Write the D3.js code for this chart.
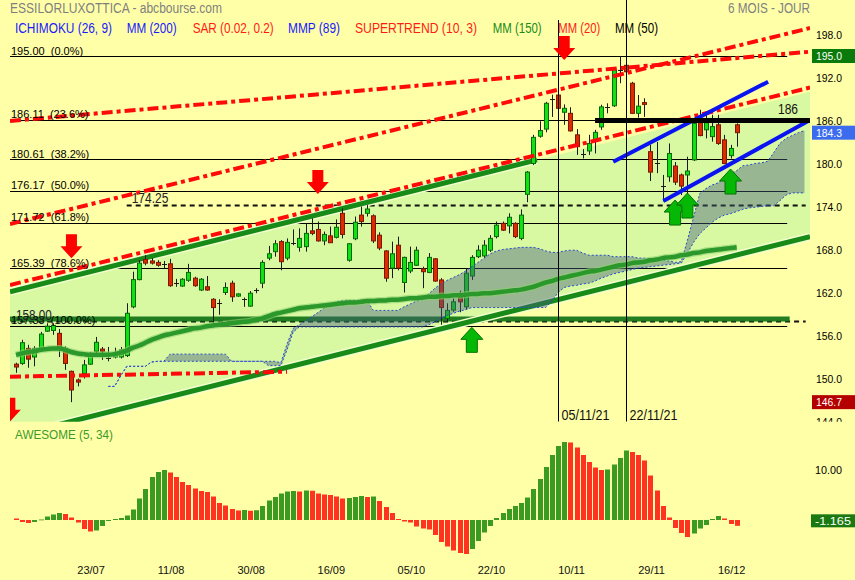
<!DOCTYPE html>
<html><head><meta charset="utf-8">
<script src="https://cdn.jsdelivr.net/npm/d3@7"></script>
<style>
body{margin:0;background:#ffffa8}
svg{display:block}
text{font-family:"Liberation Sans",Arial,Helvetica,sans-serif;white-space:pre}
</style>
</head><body>
<svg id="c" width="855" height="580"></svg>
<script>
// ---------- DATA ----------
const dates = ["06/07","07/07","08/07","09/07","12/07","13/07","14/07","15/07","16/07","19/07","20/07","21/07","22/07","23/07","26/07","27/07","28/07","29/07","30/07",
"02/08","03/08","04/08","05/08","06/08","09/08","10/08","11/08","12/08","13/08","16/08","17/08","18/08","19/08","20/08","23/08","24/08","25/08","26/08","27/08","30/08","31/08",
"01/09","02/09","03/09","06/09","07/09","08/09","09/09","10/09","13/09","14/09","15/09","16/09","17/09","20/09","21/09","22/09","23/09","24/09","27/09","28/09","29/09","30/09",
"01/10","04/10","05/10","06/10","07/10","08/10","11/10","12/10","13/10","14/10","15/10","18/10","19/10","20/10","21/10","22/10","25/10","26/10","27/10","28/10","29/10",
"01/11","02/11","03/11","04/11","05/11","08/11","09/11","10/11","11/11","12/11","15/11","16/11","17/11","18/11","19/11","22/11","23/11","24/11","25/11","26/11","29/11","30/11",
"01/12","02/12","03/12","06/12","07/12","08/12","09/12","10/12","13/12","14/12","15/12","16/12"];

const opens = [152.0,152.1,154.2,153.0,153.9,156.6,156.7,156.3,154.2,151.0,
149.8,150.7,152.0,153.8,154.1,152.7,153.0,153.0,153.2,160.0,
163.8,166.6,166.4,166.2,165.9,166.0,163.3,162.9,163.7,164.0,
162.35,162.8,161.05,160.5,162.0,163.3,161.5,161.0,160.1,162.3,
163.3,166.8,167.7,169.1,166.8,168.95,168.3,168.4,170.6,170.8,
169.2,169.9,169.7,173.05,166.5,169.5,172.8,173.05,172.7,170.0,
167.8,165.4,168.6,163.4,165.0,165.8,165.3,164.8,166.7,163.75,
158.4,159.55,161.9,160.0,164.3,167.0,167.1,167.9,169.8,171.65,
171.3,171.65,169.55,175.7,180.0,183.8,184.8,188.9,189.55,187.15,
187.0,184.0,181.35,181.75,183.15,185.1,187.85,188.05,192.9,193.7,
191.2,187.0,188.5,181.65,180.05,176.75,178.15,179.65,178.4,178.4,
180.5,185.7,184.7,183.75,185.4,183.3,181.1,185.4];
const closes = [151.6,155.0,152.7,154.2,156.2,157.3,157.4,154.2,152.1,148.4,
149.5,151.9,153.5,155.05,153.8,152.9,153.3,154.0,159.1,163.8,
166.1,166.1,166.1,165.8,165.95,162.95,163.35,163.85,164.8,162.95,
163.85,162.35,159.9,160.6,162.7,161.4,161.8,161.1,161.9,162.4,
166.2,167.4,168.8,166.3,169.0,169.0,169.55,170.25,170.25,169.2,
170.1,168.95,171.1,170.1,168.8,171.8,171.9,173.65,169.2,168.2,
164.0,167.4,165.4,166.9,166.2,167.9,164.9,166.9,163.6,159.9,
159.5,160.7,160.7,164.7,166.9,167.9,168.6,169.55,171.4,170.7,
172.5,169.8,172.8,178.8,183.65,184.6,188.4,189.0,187.7,187.7,
184.55,182.35,181.4,182.8,184.35,187.9,187.95,193.05,193.1,192.8,
187.0,188.0,188.25,178.8,180.15,176.85,181.4,177.4,176.85,178.95,
185.6,183.9,185.7,185.15,182.8,180.0,182.1,184.3];
const highs = [152.2,155.4,154.7,154.5,156.5,157.7,157.7,156.9,154.5,151.1,
150.0,152.6,153.7,155.8,154.4,154.4,154.3,154.4,160.5,164.9,
166.5,167.2,166.8,166.5,166.4,166.7,163.9,164.0,166.0,164.2,
164.0,164.3,161.2,161.05,163.4,163.65,161.9,161.3,162.2,162.6,
166.5,168.5,169.3,169.3,169.55,170.8,170.95,171.65,172.35,171.9,
170.5,171.2,172.2,173.75,168.9,172.6,174.0,174.2,172.9,170.4,
167.9,169.1,169.8,167.0,168.4,168.4,165.6,167.5,166.8,164.0,
160.5,161.2,162.25,165.4,167.2,168.6,169.3,170.0,171.9,171.9,
173.05,171.8,173.6,178.95,184.0,185.9,188.6,189.6,189.8,188.25,
187.85,184.8,182.0,184.0,184.7,188.2,188.4,193.3,195.0,193.9,
191.4,189.55,189.1,182.6,183.0,178.4,182.8,180.2,178.6,180.95,
186.0,187.5,186.8,186.8,186.8,184.0,182.6,185.6];
const lows = [150.8,151.9,151.5,151.7,153.7,156.5,156.1,153.0,151.2,146.7,
148.9,150.0,151.9,153.5,152.6,152.4,152.8,152.8,153.0,159.8,
163.7,165.8,165.9,165.6,165.4,162.8,162.8,162.8,163.5,162.8,
162.2,162.25,157.33,158.9,161.65,160.7,161.4,160.0,160.0,161.9,
162.6,166.5,167.0,165.1,166.5,168.6,167.7,167.7,170.0,169.1,
168.6,168.9,169.55,169.55,166.3,169.3,171.2,172.6,168.9,167.9,
163.5,164.0,165.1,162.0,164.7,165.7,162.6,164.7,163.5,157.5,
157.9,159.3,159.25,159.65,163.75,166.8,166.8,167.65,169.55,170.6,
170.25,169.6,169.3,174.6,179.8,183.6,184.35,186.5,187.5,185.4,
184.45,181.2,180.7,181.2,181.4,184.7,187.0,187.9,191.2,191.35,
186.9,186.4,186.5,177.55,178.65,174.7,177.45,177.0,175.6,175.7,
180.35,183.8,183.5,183.05,182.6,179.9,180.7,182.35];

const mm150 = [153.3,153.5,153.7,153.8,154.0,154.1,154.2,154.2,154.0,153.7,
153.5,153.4,153.3,153.3,153.3,153.3,153.4,153.6,153.9,154.3,
154.6,155.0,155.4,155.7,156.0,156.2,156.4,156.6,156.8,157.0,
157.1,157.3,157.4,157.5,157.6,157.7,157.8,157.9,158.0,158.2,
158.4,158.7,159.0,159.2,159.4,159.6,159.8,159.9,160.0,160.1,
160.2,160.3,160.4,160.5,160.6,160.6,160.7,160.8,160.8,160.9,
160.9,161.0,161.0,161.1,161.2,161.2,161.3,161.4,161.4,161.5,
161.5,161.6,161.6,161.7,161.8,161.8,161.9,161.9,162.0,162.1,
162.2,162.3,162.4,162.6,162.8,163.1,163.4,163.6,163.9,164.1,
164.3,164.5,164.7,164.9,165.0,165.2,165.4,165.6,165.8,165.9,
166.1,166.2,166.3,166.5,166.6,166.8,166.9,167.0,167.2,167.3,
167.5,167.6,167.8,167.9,168.0,168.1,168.2,168.3];

// Ichimoku cloud (displaced), starting at candle index 15
const cloudStart = 15;
const spanA = [148.9,148.9,150.4,151.7,151.7,151.7,151.7,152.3,152.4,152.4,
153.4,153.4,153.4,153.4,153.4,153.4,153.4,153.4,153.4,153.4,
152.4,152.4,152.4,152.4,152.4,152.4,152.4,152.4,152.2,154.8,
157.0,157.5,158.0,158.6,159.2,159.8,160.3,160.7,160.9,160.9,
160.9,160.9,160.9,159.5,159.5,159.5,159.5,159.5,160.0,160.4,
160.8,161.0,161.8,162.6,163.2,163.7,164.1,164.5,165.0,165.6,
166.2,166.8,167.4,167.8,168.0,168.1,168.2,168.3,168.3,168.3,
168.1,167.8,167.6,167.6,167.8,167.9,167.9,167.5,167.2,167.2,
167.2,167.2,167.0,167.0,167.0,167.0,166.8,166.8,166.7,166.6,
166.5,166.4,166.2,166.3,169.3,172.5,175.8,176.5,177.0,177.3,
178.0,178.6,179.0,179.7,179.8,180.0,180.1,180.3,181.5,182.8,
183.5,183.9,184.3,184.6];
const spanB = [148.9,148.9,150.4,151.7,151.7,151.7,151.7,152.3,152.4,152.4,
152.4,152.4,152.4,152.4,152.4,152.4,152.4,152.4,152.4,152.4,
152.4,152.4,152.4,152.4,152.4,152.4,151.8,151.8,151.8,154.0,
156.5,157.2,157.2,157.2,157.2,157.2,157.2,157.2,157.2,157.2,
157.2,157.2,157.2,157.2,157.2,157.2,157.2,157.2,157.2,157.2,
157.2,157.2,157.5,157.9,158.4,158.8,159.1,159.4,159.6,159.9,
159.9,159.9,159.9,159.9,159.9,159.9,159.9,159.9,159.9,159.9,
159.9,159.9,160.8,162.0,162.7,162.9,163.0,163.2,163.3,163.6,
164.0,164.3,164.6,164.8,165.0,165.2,165.4,165.5,165.6,165.7,
165.8,165.9,166.0,166.1,167.5,169.0,170.2,171.0,171.8,172.4,
172.8,173.0,173.3,173.6,173.8,173.9,174.0,174.1,174.1,174.8,
175.6,175.9,175.9,175.9];

// Awesome oscillator (5, 34)
const awesome = [0.3,-0.4,-0.6,-0.4,0.1,0.7,1.1,1.4,1.2,0.5,
-0.5,-1.8,-2.3,-2.1,-1.2,-0.2,0.2,0.4,0.9,2.1,
4.3,6.2,8.6,9.6,10.0,9.5,8.6,7.6,7.0,6.3,
5.8,5.6,4.7,3.4,2.9,2.2,1.9,2.0,1.85,1.95,
2.8,3.9,4.6,5.3,5.7,5.8,5.7,5.9,5.85,5.3,
5.1,5.0,4.7,4.3,4.4,4.6,4.8,4.6,4.7,3.8,
2.6,1.4,0.2,-0.3,-0.5,-1.3,-1.7,-1.9,-3.0,-4.4,
-5.3,-6.1,-6.6,-6.8,-5.8,-4.2,-2.5,-1.2,0.4,1.4,
2.2,2.8,3.4,4.5,6.2,8.2,10.6,13.0,14.8,15.6,
15.5,14.5,13.0,11.6,10.5,10.0,10.1,11.1,12.4,13.9,
13.6,13.0,11.9,8.9,5.9,2.8,0.5,-1.6,-2.6,-3.4,
-2.7,-1.7,-1.0,0.2,0.8,0.3,-0.8,-1.165];

// Fibonacci retracement
const fibValues = [195.00,186.11,180.61,176.17,171.72,165.39,157.33];
const fibPct = ["0.0%","23.6%","38.2%","50.0%","61.8%","78.6%","100.0%"];

const priceTicks = [198,192,186,180,174,168,162,156,150,144];
const dateTicks = ["23/07","11/08","30/08","16/09","05/10","22/10","10/11","29/11","16/12"];
const markedDates = ["05/11","22/11"];

// trend lines in (candle index, price) space
const channelUpper = [[-0.974,162.11],[128.9,190.0]];
const channelUpperDrawn = [[-0.974,162.11],[84.58,180.5]];
const channelLower = [[-0.974,141.88],[128.9,169.79]];
const redLines = [
  [[-0.974,185.94],[128.9,195.6]],
  [[-0.974,171.56],[128.9,198.9]],
  [[-0.974,163.05],[128.9,190.6]],
  [[-0.974,150.25],[44.0,150.95]]
];
const blueLines = [
  [[96.96,180.25],[122.1,191.41]],
  [[105.1,174.77],[128.9,186.07]]
];
const resistance = {value:186, from:94.0, to:128.9};
const dashedLevels = [{value:174.25, from:17.97, to:128.2}, {value:158.00, from:-0.8, to:128.2}];
const supportLine = {value:158.3, from:-0.974, to:125.6};

const downSignals = [-1, 9, 49, 89];
const downTips = [143.97, 166.77, 175.74, 194.44];
const upSignals = [74, 107, 109, 116];
const upTips = [157.14, 174.9, 175.88, 179.23];

const maxPrice = 195.0, minPrice = 146.7, lastPrice = 184.3;

// ---------- DRAW ----------
const W = 855, H = 580;
const svg = d3.select("#c");
const xS = d3.scaleLinear().domain([0, 117]).range([16, 736.7]);
const yP = d3.scaleLinear().domain([144, 198]).range([421.5, 34.5]);
const yA = d3.scaleLinear().domain([0, 10]).range([520, 470]);

const YEL = "#ffffa8", LGREEN = "#d8f8a2";
svg.append("rect").attr("width", W).attr("height", H).attr("fill", YEL);

const defs = svg.append("defs");
defs.append("clipPath").attr("id", "pc").append("rect").attr("x", 10).attr("y", 0).attr("width", 800).attr("height", 421.7);
defs.append("clipPath").attr("id", "ac").append("rect").attr("x", 0).attr("y", 0).attr("width", W).attr("height", 421.7);

function txt(g, x, y, s, size, fill, len, anchor) {
  const t = g.append("text").attr("x", x).attr("y", y).attr("font-size", size).attr("fill", fill).text(s);
  if (len) t.attr("textLength", len).attr("lengthAdjust", "spacingAndGlyphs");
  if (anchor) t.attr("text-anchor", anchor);
  return t;
}
const pt = d => [xS(d[0]), yP(d[1])];
const lineGen = d3.line();

const P = svg.append("g").attr("clip-path", "url(#pc)");

// channel fill
const cu = channelUpper.map(pt), cl = channelLower.map(pt);
P.append("path").attr("d", lineGen([cu[0], cu[1], cl[1], cl[0]]) + "Z").attr("fill", LGREEN);

// fib lines
fibValues.forEach(v => {
  const y = Math.round(yP(v)) + 0.5;
  P.append("line").attr("x1", xS(-0.974)).attr("x2", xS(125.2)).attr("y1", y).attr("y2", y)
    .attr("stroke", "#000").attr("stroke-width", 1);
});

// dashed levels
dashedLevels.forEach(d => {
  const y = Math.round(yP(d.value)) + 0.5;
  P.append("line").attr("x1", xS(d.from)).attr("x2", xS(d.to)).attr("y1", y).attr("y2", y)
    .attr("stroke", "#111").attr("stroke-width", 2).attr("stroke-dasharray", "5,4");
});

// support green horizontal
P.append("line").attr("x1", xS(supportLine.from)).attr("x2", xS(supportLine.to))
  .attr("y1", yP(supportLine.value)).attr("y2", yP(supportLine.value))
  .attr("stroke", "#17781a").attr("stroke-width", 5).attr("opacity", 0.95);

// channel green lines
[channelUpperDrawn, channelLower].forEach(l => {
  const p = l.map(pt);
  P.append("path").attr("d", lineGen(p)).attr("stroke", "#f4ffd0").attr("stroke-width", 8).attr("fill", "none");
  P.append("path").attr("d", lineGen(p)).attr("stroke", "#178a17").attr("stroke-width", 5).attr("fill", "none");
});

// candles
const cg = P.append("g");
d3.range(dates.length).forEach(i => {
  const cx = Math.round(xS(i));
  const o = opens[i], c = closes[i], up = c >= o;
  cg.append("line").attr("x1", cx + 0.5).attr("x2", cx + 0.5)
    .attr("y1", yP(highs[i])).attr("y2", yP(lows[i])).attr("stroke", "#1a1a1a").attr("stroke-width", 1);
  const top = yP(Math.max(o, c)), bot = yP(Math.min(o, c));
  if (bot - top < 1.6) {
    const y = Math.round((top + bot) / 2) + 0.5;
    cg.append("line").attr("x1", cx - 2).attr("x2", cx + 3).attr("y1", y).attr("y2", y)
      .attr("stroke", "#1a1a1a").attr("stroke-width", 1);
  } else {
    cg.append("rect").attr("x", cx - 1.5).attr("y", top).attr("width", 4).attr("height", bot - top)
      .attr("fill", up ? "#12e012" : "#dd2a00").attr("stroke", up ? "#0a6a0a" : "#7a1800").attr("stroke-width", 1);
  }
});

// red dash-dot lines
redLines.forEach(l => {
  P.append("path").attr("d", lineGen(l.map(pt))).attr("stroke", "#ff0a0a").attr("stroke-width", 4)
    .attr("fill", "none").attr("stroke-dasharray", "11,4,4,4");
});

// ichimoku cloud
const cloudIdx = d3.range(spanA.length).map(k => k + cloudStart);
const area = d3.area().x((d, k) => xS(cloudIdx[k])).y0((d, k) => yP(spanB[k])).y1((d, k) => yP(spanA[k]));
P.append("path").attr("d", area(spanA)).attr("fill", "rgb(64,95,122)").attr("fill-opacity", 0.43);
[spanA, spanB].forEach(s => {
  P.append("path").attr("d", d3.line().x((d, k) => xS(cloudIdx[k])).y(d => yP(d))(s))
    .attr("fill", "none").attr("stroke", "#2a4ad0").attr("stroke-width", 1).attr("stroke-dasharray", "2,2");
});

// MM150
P.append("path").attr("d", d3.line().x((d, i) => xS(i)).y(d => yP(d)).curve(d3.curveMonotoneX)(mm150))
  .attr("fill", "none").attr("stroke", "#8fd070").attr("stroke-width", 7).attr("opacity", 0.6);
P.append("path").attr("d", d3.line().x((d, i) => xS(i)).y(d => yP(d)).curve(d3.curveMonotoneX)(mm150))
  .attr("fill", "none").attr("stroke", "#2a982a").attr("stroke-width", 4.5);

// blue lines
blueLines.forEach(l => {
  P.append("path").attr("d", lineGen(l.map(pt))).attr("stroke", "#0a14f0").attr("stroke-width", 4).attr("fill", "none");
});
// resistance
P.append("line").attr("x1", xS(resistance.from)).attr("x2", xS(resistance.to))
  .attr("y1", yP(resistance.value)).attr("y2", yP(resistance.value)).attr("stroke", "#000").attr("stroke-width", 5);

// vertical date lines
markedDates.forEach((d, k) => {
  const i = dates.indexOf(d);
  const x = Math.round(xS(i)) + 0.5;
  P.append("line").attr("x1", x).attr("x2", x).attr("y1", k === 0 ? 20 : 0).attr("y2", 421.7)
    .attr("stroke", "#000").attr("stroke-width", 1);
  txt(P, x + 3, 419.5, d + "/21", 14, "#111", 48);
});

// arrows
downSignals.forEach((i, k) => {
  const cx = xS(i), ty = yP(downTips[k]);
  P.append("path").attr("d", `M${cx - 5.5},${ty - 24}h11v12h5.5L${cx},${ty}L${cx - 11},${ty - 12}h5.5Z`)
    .attr("fill", "#ff0000");
});
upSignals.forEach((i, k) => {
  const cx = xS(i), ty = yP(upTips[k]);
  P.append("path").attr("d", `M${cx},${ty}L${cx + 11},${ty + 12}h-5.5v13h-11v-13h-5.5Z`)
    .attr("fill", "#06b806").attr("stroke", "#067006").attr("stroke-width", 1);
});

// labels on price panel
fibValues.forEach((v, k) => {
  txt(P, 11, yP(v) - 1.5, v.toFixed(2) + "  (" + fibPct[k] + ")", 11, "#000");
});
txt(P, xS(dashedLevels[0].from) + 5, yP(dashedLevels[0].value) - 1.8, dashedLevels[0].value.toFixed(2), 14, "#222", 36.7);
txt(P, 16, yP(dashedLevels[1].value) - 1.6, dashedLevels[1].value.toFixed(2), 14, "#222", 35.7);
txt(P, 778, yP(resistance.value) - 6.5, String(resistance.value), 14, "#111", 20);

// right price axis
const A = svg.append("g").attr("clip-path", "url(#ac)");
priceTicks.forEach(v => txt(A, 816, yP(v) + 4, v.toFixed(1), 11, "#000", 26));
[[maxPrice, "#0a7a0a"], [lastPrice, "#3b6cf0"], [minPrice, "#b40000"]].forEach(([v, col]) => {
  const y = yP(v);
  A.append("rect").attr("x", 812).attr("y", y - 7).attr("width", 43).attr("height", 14).attr("fill", col);
  txt(A, 816, y + 4, v.toFixed(1), 11, "#fff", 26);
});

// titles / legend
txt(svg, 10, 13.3, "ESSILORLUXOTTICA - abcbourse.com", 14, "#7f7f7f", 212);
txt(svg, 728, 13.3, "6 MOIS - JOUR", 14, "#7f7f7f", 82);
[["ICHIMOKU (26, 9)", 15, 97, "#1a1aff"], ["MM (200)", 126.7, 50, "#1a1aff"], ["SAR (0.02, 0.2)", 192.7, 81, "#ff1a1a"],
 ["MMP (89)", 288, 52, "#1a1aff"], ["SUPERTREND (10, 3)", 355, 122, "#ff1a1a"], ["MM (150)", 492.7, 49, "#1a8a1a"],
 ["MM (20)", 558.3, 42, "#ff1a1a"], ["MM (50)", 615, 43, "#000"]]
 .forEach(([s, x, w, c]) => txt(svg, x, 32.7, s, 14, c, w));

// awesome panel
txt(svg, 15, 439.3, "AWESOME (5, 34)", 12.5, "#3c9a28", 98);
const ag = svg.append("g");
awesome.forEach((v, i) => {
  const rising = i === 0 ? false : v > awesome[i - 1];
  const y0 = yA(0), y1 = yA(v);
  ag.append("rect").attr("x", Math.round(xS(i)) - 2).attr("width", 5)
    .attr("y", Math.min(y0, y1)).attr("height", Math.max(Math.abs(y1 - y0), 0.8))
    .attr("fill", rising ? "#3a9a22" : "#ff3322");
});
txt(svg, 815, yA(10) + 4, (10).toFixed(2), 11, "#000", 27);
const lastAO = awesome[awesome.length - 1];
svg.append("rect").attr("x", 811).attr("y", yA(lastAO) - 11.5).attr("width", 44).attr("height", 13).attr("fill", "#1a7a10");
txt(svg, 815, yA(lastAO) - 1, lastAO.toFixed(3), 11, "#fff", 36);

dateTicks.forEach(d => {
  const i = dates.indexOf(d);
  txt(svg, xS(i) - 5, 574, d, 11, "#111", null, "middle");
});
</script>
</body></html>
